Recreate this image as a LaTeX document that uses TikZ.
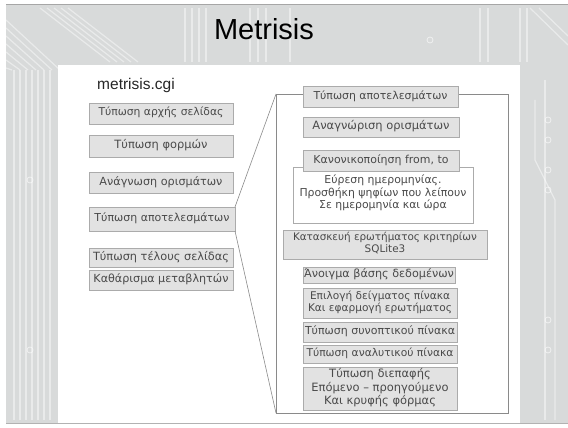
\documentclass[tikz,border=0pt]{standalone}
\usepackage{fontspec}
\usepackage{graphicx}
\setmainfont{Liberation Sans}
\newfontfamily\boxfont{DejaVu Sans}
% set a (possibly multi-line) label to a given width
\newcommand{\fitw}[2]{\resizebox{#1}{!}{\begin{tabular}{@{}c@{}}#2\end{tabular}}}
\begin{document}
\begin{tikzpicture}[x=1pt,y=-1pt,
  every node/.style={inner sep=0pt,outer sep=0pt},
  stepbox/.style={draw=boxline,fill=boxfill,line width=0.6pt,text=boxtext,
    font=\boxfont\fontsize{10}{11.5}\selectfont,align=center},
  notebox/.style={stepbox,fill=white},
  link/.style={draw=linkcol,line width=0.6pt},
  trace/.style={draw=white,opacity=0.45,line width=1.2pt},
]
\definecolor{bg}{HTML}{D8DADA}
\definecolor{boxfill}{HTML}{E2E2E2}
\definecolor{boxline}{HTML}{ABABAB}
\definecolor{boxtext}{HTML}{4A4A4A}
\definecolor{linkcol}{HTML}{8A8A8A}
\useasboundingbox (0,0) rectangle (568,428);
\fill[white] (0,0) rectangle (568,428);
% slide background with faint circuit traces
\fill[bg] (6,4) rectangle (568,424);
\draw[gray!70,line width=0.6pt] (6,4.3) -- (568,4.3);
\draw[gray!60,line width=0.6pt] (6,423.7) -- (568,423.7);
\foreach \x in {14,20,26,32,38,44,50} \draw[trace] (\x,70) -- (\x,420);
\foreach \d in {0,8,16,24,32,40,48} \draw[trace] (6,20+\d) -- (60-\d,70);
\foreach \d in {0,7,14,21,28} \draw[trace] (40+\d,8) -- (110+\d,62);
\foreach \x in {185,192,199,206,250,258,266,290} \draw[trace] (\x,8) -- (\x,62);
\foreach \x in {480,488,520,527} \draw[trace] (\x,8) -- (\x,62);
\foreach \d in {0,9} \draw[trace] (530+\d,8) -- (568,45-\d);
\draw[trace] (545,80) -- (545,420);
\draw[trace] (535,100) -- (535,160) -- (555,200) -- (555,420);
\foreach \y in {120,140,170,190,320,350} \draw[white,opacity=0.6,line width=0.8pt] (548,\y) circle (3);
\draw[white,opacity=0.6,line width=0.8pt] (30,180) circle (3) (30,350) circle (3) (430,40) circle (3);
% white content panel
\node[fill=white,minimum width=462pt,minimum height=358pt,anchor=north west] (panel) at (58,65) {};
% title and file name
\node[font=\fontsize{29}{30}\selectfont,text=black] (title) at (264,29) {Metrisis};
\node[font=\fontsize{15.5}{17}\selectfont,text=black!85] (cgi) at (136,85) {metrisis.cgi};
% main sequence of the script
\node[stepbox,minimum width=144pt,minimum height=21pt] (L1) at (161,113.5) {\fitw{125pt}{Τύπωση αρχής σελίδας}};
\node[stepbox,minimum width=144pt,minimum height=22pt] (L2) at (161,146) {\fitw{93pt}{Τύπωση φορμών}};
\node[stepbox,minimum width=144pt,minimum height=21pt] (L3) at (161,182.5) {\fitw{123pt}{Ανάγνωση ορισμάτων}};
\node[stepbox,minimum width=146pt,minimum height=24pt] (L4) at (162,219) {\fitw{135pt}{Τύπωση αποτελεσμάτων}};
\node[stepbox,minimum width=144pt,minimum height=19pt] (L5) at (161,257.5) {\fitw{136pt}{Τύπωση τέλους σελίδας}};
\node[stepbox,minimum width=144pt,minimum height=20pt] (L6) at (161,280) {\fitw{135pt}{Καθάρισμα μεταβλητών}};
% expanded view of the results step
\node[draw=linkcol,line width=0.6pt,minimum width=232pt,minimum height=319pt,anchor=north west] (frame) at (276,94) {};
\draw[link] (L4.north east) -- (frame.north west);
\draw[link] (L4.south east) -- (frame.south west);
\node[stepbox,minimum width=155pt,minimum height=21pt] (R1) at (380.5,96.5) {\fitw{134pt}{Τύπωση αποτελεσμάτων}};
\node[stepbox,minimum width=156pt,minimum height=20pt] (R2) at (381,127) {\fitw{137pt}{Αναγνώριση ορισμάτων}};
\node[notebox,minimum width=180pt,minimum height=56pt] (R4) at (383,195) {};
\node[text=boxtext,font=\boxfont\fontsize{10}{11}\selectfont] (R4text) at (383,193.5)
  {\fitw{167pt}{Εύρεση ημερομηνίας.\\Προσθήκη ψηφίων που λείπουν\\Σε ημερομηνία και ώρα}};
\node[stepbox,minimum width=156pt,minimum height=21pt] (R3) at (381,160.5) {\fitw{135pt}{Κανονικοποίηση from, to}};
\node[stepbox,minimum width=204pt,minimum height=29pt] (R5) at (385,244.5) {\fitw{184pt}{Κατασκευή ερωτήματος κριτηρίων\\SQLite3}};
\node[stepbox,minimum width=152pt,minimum height=16pt] (R6) at (379,275) {\fitw{150pt}{Άνοιγμα βάσης δεδομένων}};
\node[stepbox,minimum width=154pt,minimum height=30pt] (R7) at (380,303) {\fitw{144pt}{Επιλογή δείγματος πίνακα\\Και εφαρμογή ερωτήματος}};
\node[stepbox,minimum width=154pt,minimum height=20pt] (R8) at (380,332) {\fitw{150pt}{Τύπωση συνοπτικού πίνακα}};
\node[stepbox,minimum width=154pt,minimum height=18pt] (R9) at (380,354) {\fitw{147pt}{Τύπωση αναλυτικού πίνακα}};
\node[stepbox,minimum width=154pt,minimum height=43pt] (R10) at (380,388.5) {\fitw{137pt}{Τύπωση διεπαφής\\Επόμενο – προηγούμενο\\Και κρυφής φόρμας}};
\end{tikzpicture}
\end{document}
